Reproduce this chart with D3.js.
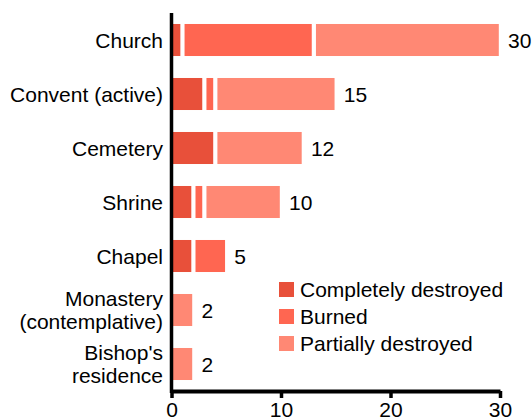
<!DOCTYPE html>
<html><head><meta charset="utf-8">
<script src="https://cdn.jsdelivr.net/npm/d3@7"></script>
<style>body{margin:0;background:#fff}svg{display:block}text{font-family:"Liberation Sans",Arial,sans-serif;fill:#000}</style>
</head><body><svg id="c" width="532" height="417"></svg>
<script>
const categories = ["Church","Convent (active)","Cemetery","Shrine","Chapel","Monastery (contemplative)","Bishop's residence"];
const labelLines = [["Church"],["Convent (active)"],["Cemetery"],["Shrine"],["Chapel"],["Monastery","(contemplative)"],["Bishop's","residence"]];
const completelyDestroyed = [1,3,4,2,2,0,0];
const burned = [12,1,0,1,3,0,0];
const partiallyDestroyed = [17,11,8,7,0,2,2];
const seriesNames = ["Completely destroyed","Burned","Partially destroyed"];
const colors = ["#E8503A","#FF6651","#FF8874"];
const xTicks = [0,10,20,30];

const rows = categories.map((c,i)=>({cat:c, v:[completelyDestroyed[i],burned[i],partiallyDestroyed[i]]}));
const svg = d3.select("#c");
const x = d3.scaleLinear().domain([0,30]).range([171.5,500]);
const y = d3.scaleBand().domain(categories).range([13,391]).paddingInner(0.407).paddingOuter(0.2035);

const gap = 4.2;
rows.forEach((r,i)=>{
  let acc = 0;
  const total = d3.sum(r.v);
  r.v.forEach((v,k)=>{
    if(v<=0) return;
    const s = acc, e = acc+v;
    const x0 = x(s) + (s>0 ? gap/2 : 0);
    const x1 = x(e) - (e<total ? gap/2 : 1.2);
    svg.append("rect").attr("x",x0).attr("y",y(r.cat)).attr("width",Math.max(0,x1-x0)).attr("height",y.bandwidth()).attr("fill",colors[k]);
    acc = e;
  });
  svg.append("text").attr("x",x(total)+8).attr("y",y(r.cat)+y.bandwidth()/2).attr("dy","0.36em").style("font-size","21px").text(total);
});

// category labels
labelLines.forEach((lines,i)=>{
  const cy = y(categories[i]) + y.bandwidth()/2;
  const lh = 23;
  const t = svg.append("text").attr("text-anchor","end").style("font-size","21px");
  lines.forEach((ln,j)=>{
    t.append("tspan").attr("x",163).attr("y",cy + (j-(lines.length-1)/2)*lh).attr("dy","0.36em").text(ln);
  });
});

// axes
const xAxis = svg.append("g").attr("transform","translate(0,391)").call(d3.axisBottom(x).tickValues(xTicks).tickSize(7).tickSizeOuter(0).tickPadding(4));
xAxis.select(".domain").attr("stroke","#000").attr("stroke-width",4);
xAxis.selectAll(".tick line").attr("stroke","#000").attr("stroke-width",3.5);
xAxis.selectAll(".tick text").style("font-size","21px").style("font-family","'Liberation Sans',Arial,sans-serif").attr("fill","#000");
svg.append("line").attr("x1",x(0)).attr("x2",x(0)).attr("y1",13).attr("y2",393).attr("stroke","#000").attr("stroke-width",3.5);

// legend
const lg = svg.append("g");
seriesNames.forEach((n,k)=>{
  const yy = 282 + k*27;
  lg.append("rect").attr("x",279).attr("y",yy).attr("width",15).attr("height",15).attr("fill",colors[k]);
  lg.append("text").attr("x",300).attr("y",yy+7.5).attr("dy","0.36em").style("font-size","21px").text(n);
});
</script></body></html>
